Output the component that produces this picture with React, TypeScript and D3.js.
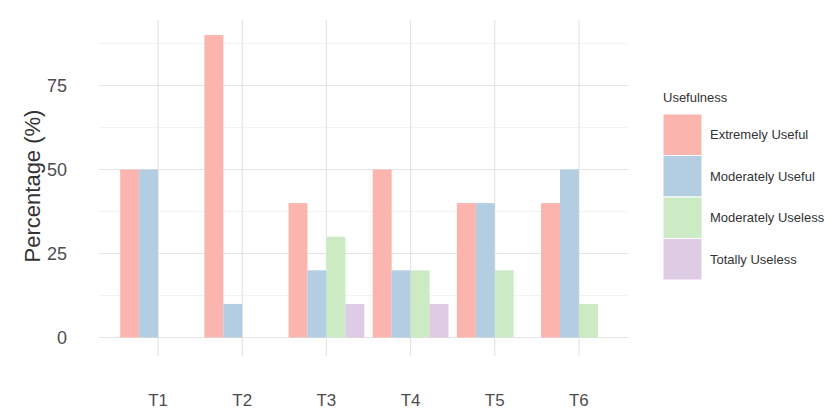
import React from "react";
import * as d3 from "d3";

const categories = ["T1", "T2", "T3", "T4", "T5", "T6"];
const seriesNames = ["Extremely Useful", "Moderately Useful", "Moderately Useless", "Totally Useless"];
const extremelyUseful = [50, 90, 40, 50, 40, 40];
const moderatelyUseful = [50, 10, 20, 20, 40, 50];
const moderatelyUseless = [0, 0, 30, 20, 20, 10];
const totallyUseless = [0, 0, 10, 10, 0, 0];
const seriesValues = [extremelyUseful, moderatelyUseful, moderatelyUseless, totallyUseless];
const colors = ["#FBB4AE", "#B3CDE3", "#CCEBC5", "#DECBE4"];
const majorTicks = [0, 25, 50, 75];
const minorTicks = [12.5, 37.5, 62.5, 87.5];
const legendTitle = "Usefulness";
const yTitle = "Percentage (%)";

export default function App() {
  const W = 834, H = 414;
  const panelL = 99, panelR = 628, panelT = 20, panelB = 356;
  const x = d3.scaleBand<string>().domain(categories).range([116, 621]).paddingInner(0.1).paddingOuter(0.05);
  const xs = d3.scaleBand<string>().domain(seriesNames).range([0, x.bandwidth()]);
  const y = d3.scaleLinear().domain([-5.5, 94.5]).range([panelB, panelT]);
  const font = "Arial, 'Liberation Sans', Helvetica, sans-serif";
  const legendX = 663, legendTop = 114, keyW = 39, keyH = 41.5;
  return (
    <svg width={W} height={H} style={{ position: "absolute", left: 0, top: 0, background: "#fff" }} fontFamily={font}>
      {minorTicks.map((t) => (
        <line key={"mi" + t} x1={panelL} x2={panelR} y1={y(t)} y2={y(t)} stroke="#F3F3F3" strokeWidth={1} />
      ))}
      {majorTicks.map((t) => (
        <line key={"ma" + t} x1={panelL} x2={panelR} y1={y(t)} y2={y(t)} stroke="#E4E4E4" strokeWidth={1.2} />
      ))}
      {categories.map((c) => (
        <line key={"v" + c} x1={x(c)! + x.bandwidth() / 2} x2={x(c)! + x.bandwidth() / 2} y1={panelT} y2={panelB} stroke="#E4E4E4" strokeWidth={1.2} />
      ))}
      {seriesValues.map((vals, si) =>
        vals.map((v, ci) =>
          v > 0 ? (
            <rect key={si + "-" + ci} x={x(categories[ci])! + xs(seriesNames[si])!} width={xs.bandwidth()} y={y(v)} height={y(0) - y(v)} fill={colors[si]} />
          ) : null
        )
      )}
      {majorTicks.map((t) => (
        <text key={"yl" + t} x={67} y={y(t)} dy="0.36em" textAnchor="end" fontSize={18} fill="#4D4D4D">{t}</text>
      ))}
      {categories.map((c) => (
        <text key={"xl" + c} x={x(c)! + x.bandwidth() / 2} y={406} textAnchor="middle" fontSize={17} fill="#4D4D4D">{c}</text>
      ))}
      <text transform={`translate(40,186) rotate(-90)`} textAnchor="middle" fontSize={22} fill="#333">{yTitle}</text>
      <text x={legendX} y={102} fontSize={13} fill="#333">{legendTitle}</text>
      {seriesNames.map((s, i) => (
        <g key={"lg" + s}>
          <rect x={legendX} y={legendTop + i * keyH} width={keyW} height={keyH} fill={colors[i]} stroke="#fff" strokeWidth={1} />
          <text x={legendX + keyW + 8} y={legendTop + i * keyH + keyH / 2} dy="0.36em" fontSize={13} fill="#333">{s}</text>
        </g>
      ))}
    </svg>
  );
}
